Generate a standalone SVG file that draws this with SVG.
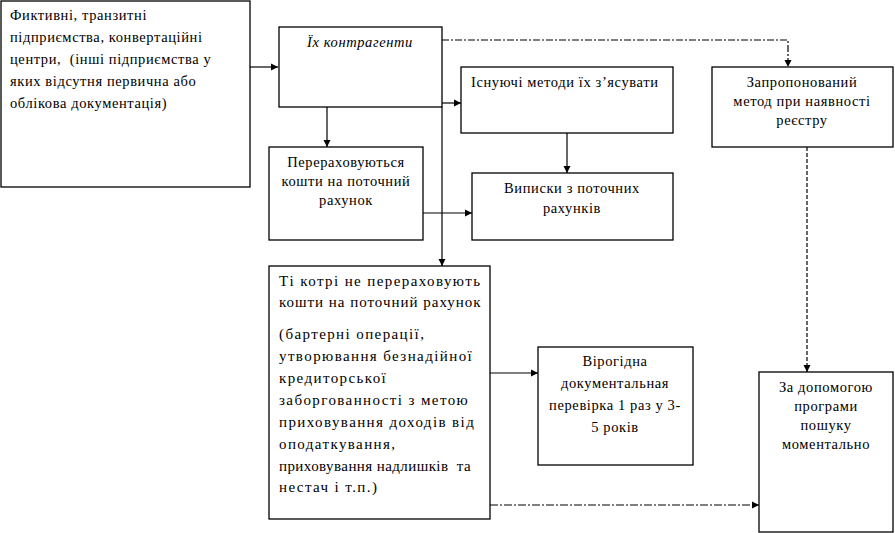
<svg xmlns="http://www.w3.org/2000/svg" width="895" height="533" viewBox="0 0 895 533">
<defs>
<marker id="ah" markerUnits="userSpaceOnUse" markerWidth="8" markerHeight="8" refX="7" refY="4" orient="auto">
<path d="M0,0.5 L7,4 L0,7.5 Z" fill="#000"/>
</marker>
<style>
.box{fill:#fff;stroke:#000;stroke-width:1.3}
.t{font-family:"Liberation Serif","Times New Roman",serif;font-size:14.5px;fill:#000;letter-spacing:0.6px;white-space:pre}
.w{font-size:15px;letter-spacing:1.4px}
.c{text-anchor:middle}
.it{font-style:italic}
.ln{fill:none;stroke:#000;stroke-width:1.2}
.dd{stroke-dasharray:7,2,2,2}
.ds{stroke-dasharray:4,2}
.d2{stroke-dasharray:8,2,2,2}
</style>
</defs>
<rect width="895" height="533" fill="#fff"/>
<g id="connectors">
<path class="ln" d="M250,67 H278" marker-end="url(#ah)"/>
<path class="ln" d="M442,103 H461" marker-end="url(#ah)"/>
<path class="ln dd" d="M442,40 H788 V67" marker-end="url(#ah)"/>
<path class="ln" d="M327,107 V147" marker-end="url(#ah)"/>
<path class="ln" d="M442,107 V266" marker-end="url(#ah)"/>
<path class="ln" d="M567,133 V173" marker-end="url(#ah)"/>
<path class="ln" d="M423,213 H472" marker-end="url(#ah)"/>
<path class="ln" d="M490,373 H538" marker-end="url(#ah)"/>
<path class="ln d2" d="M490,505 H759" marker-end="url(#ah)"/>
<path class="ln ds" d="M807,147 V372" marker-end="url(#ah)"/>
</g>
<g id="n1">
<rect class="box" x="1" y="1" width="249" height="186"/>
<text class="t" x="10" y="20">Фиктивні, транзитні</text>
<text class="t" x="10" y="42">підприємства, конвертаційні</text>
<text class="t" x="10" y="64">центри,  (інші підприємства у</text>
<text class="t" x="10" y="86">яких відсутня первична або</text>
<text class="t" x="10" y="108">облікова документація)</text>
</g>
<g id="n2">
<rect class="box" x="279" y="27" width="163" height="80"/>
<text class="t c it" x="360" y="47">Їх контрагенти</text>
</g>
<g id="n3">
<rect class="box" x="461" y="67" width="212" height="66"/>
<text class="t" x="471" y="87">Існуючі методи їх з’ясувати</text>
</g>
<g id="n4">
<rect class="box" x="712" y="67" width="181" height="80"/>
<text class="t c" x="802" y="87">Запропонований</text>
<text class="t c" x="802" y="106">метод при наявності</text>
<text class="t c" x="802" y="125">реєстру</text>
</g>
<g id="n5">
<rect class="box" x="269" y="147" width="154" height="93"/>
<text class="t c" x="346" y="167">Перераховуються</text>
<text class="t c" x="346" y="186">кошти на поточний</text>
<text class="t c" x="346" y="205">рахунок</text>
</g>
<g id="n6">
<rect class="box" x="472" y="173" width="201" height="67"/>
<text class="t c" x="572" y="193">Виписки з поточних</text>
<text class="t c" x="572" y="213">рахунків</text>
</g>
<g id="n7">
<rect class="box" x="269" y="266" width="221" height="253"/>
<text class="t w" x="279" y="286">Ті котрі не перераховують</text>
<text class="t w" x="279" y="307" textLength="203" lengthAdjust="spacing">кошти на поточний рахунок</text>
<text class="t w" x="279" y="339">(бартерні операції,</text>
<text class="t w" x="279" y="361">утворювання безнадійної</text>
<text class="t w" x="279" y="383">кредиторської</text>
<text class="t w" x="279" y="405">заборгованності з метою</text>
<text class="t w" x="279" y="427">приховування доходів від</text>
<text class="t w" x="279" y="449">оподаткування,</text>
<text class="t w" x="279" y="471" textLength="193" lengthAdjust="spacing">приховування надлишків  та</text>
<text class="t w" x="279" y="492">нестач і т.п.)</text>
</g>
<g id="n8">
<rect class="box" x="538" y="347" width="155" height="118"/>
<text class="t c" x="615" y="366">Вірогідна</text>
<text class="t c" x="615" y="388">документальная</text>
<text class="t c" x="615" y="410">перевірка 1 раз у 3-</text>
<text class="t c" x="615" y="432">5 років</text>
</g>
<g id="n9">
<rect class="box" x="759" y="372" width="134" height="160"/>
<text class="t c" x="826" y="392">За допомогою</text>
<text class="t c" x="826" y="411">програми</text>
<text class="t c" x="826" y="430">пошуку</text>
<text class="t c" x="826" y="449">моментально</text>
</g>
</svg>
